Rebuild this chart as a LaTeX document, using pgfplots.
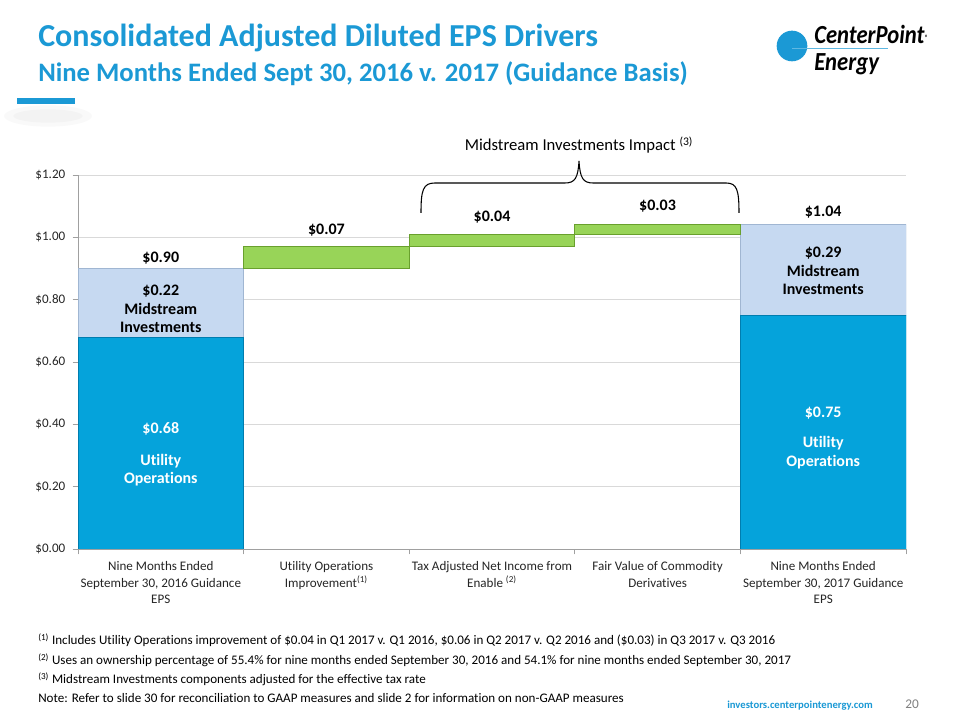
\documentclass[border=0pt]{standalone}
\usepackage{pgfplots}
\pgfplotsset{compat=1.18}
\usepackage{fontspec}
\setmainfont{Carlito}[Ligatures={NoCommon}]
\definecolor{titleblue}{RGB}{27,153,213}
\definecolor{barblue}{RGB}{5,163,219}
\definecolor{barblueedge}{RGB}{0,125,175}
\definecolor{lightblue}{RGB}{198,217,241}
\definecolor{lightblueedge}{RGB}{160,182,210}
\definecolor{barGreen}{RGB}{152,212,88}
\definecolor{greenedge}{RGB}{105,160,45}
\definecolor{textgray}{RGB}{38,38,38}
\definecolor{gridgray}{RGB}{217,217,217}
\definecolor{axisgray}{RGB}{160,160,160}
\pgfplotsset{
  wf/.style={ybar stacked, bar width=1, xmin=0, xmax=5, ymin=0, ymax=1.2,
    enlargelimits=false, scale only axis, width=621pt, height=280.5pt,
    at={(58.5pt,128.25pt)}, anchor=south west},
}
\tikzset{
  lbl/.style={font=\bfseries\fontsize{12}{13.9}\selectfont, align=center, text=black},
  wlbl/.style={font=\bfseries\fontsize{12}{14.2}\selectfont, align=center, text=white},
}
\begin{document}
\begin{tikzpicture}
\path[use as bounding box, fill=white] (0,0) rectangle (720pt,540pt);
\begin{axis}[wf,
  axis x line*=bottom, axis y line*=left,
  axis line style={draw=axisgray, line width=0.6pt},
  ymajorgrids, grid style={draw=gridgray, line width=0.6pt},
  ytick={0,0.2,0.4,0.6,0.8,1.0,1.2},
  yticklabels={\$0.00,\$0.20,\$0.40,\$0.60,\$0.80,\$1.00,\$1.20},
  xtick={0,1,2,3,4}, extra x ticks={5}, extra x tick labels={},
  xticklabels={{Nine Months Ended\\September 30, 2016 Guidance\\EPS},
    {Utility Operations\\Improvement\textsuperscript{(1)}},
    {Tax Adjusted Net Income from\\Enable \textsuperscript{(2)}},
    {Fair Value of Commodity\\Derivatives},
    {Nine Months Ended\\September 30, 2017 Guidance\\EPS}},
  xticklabel style={xshift=62.1pt, align=center, anchor=north, yshift=-2pt,
    font=\fontsize{9.8}{12.4}\selectfont, text=textgray},
  yticklabel style={font=\fontsize{9.8}{12}\selectfont, text=textgray, xshift=-2pt},
  tick style={draw=axisgray, line width=0.6pt},
  tick align=outside, major tick length=4pt,
]
\addplot[fill=barblue, draw=barblueedge, line width=0.6pt] coordinates {(0.5,0.68) (4.5,0.75)};
\addplot[fill=lightblue, draw=lightblueedge, line width=0.6pt] coordinates {(0.5,0.22) (4.5,0.29)};
\end{axis}
\begin{axis}[wf, hide axis, clip=false]
\addplot[fill=none, draw=none] coordinates {(1.5,0.90) (2.5,0.97) (3.5,1.01)};
\addplot[fill=barGreen, draw=greenedge, line width=0.6pt] coordinates {(1.5,0.07) (2.5,0.04) (3.5,0.03)};
\node[lbl] at (axis cs:0.5,0.934) {\$0.90};
\node[lbl] at (axis cs:0.5,0.770) {\$0.22\\Midstream\\Investments};
\node[wlbl] at (axis cs:0.5,0.385) {\$0.68};
\node[wlbl] at (axis cs:0.5,0.253) {Utility\\Operations};
\node[lbl] at (axis cs:1.5,1.024) {\$0.07};
\node[lbl] at (axis cs:2.5,1.065) {\$0.04};
\node[lbl] at (axis cs:3.5,1.100) {\$0.03};
\node[lbl] at (axis cs:4.5,1.081) {\$1.04};
\node[lbl] at (axis cs:4.5,0.892) {\$0.29\\Midstream\\Investments};
\node[wlbl] at (axis cs:4.5,0.436) {\$0.75};
\node[wlbl] at (axis cs:4.5,0.310) {Utility\\Operations};
\end{axis}
\begin{scope}[x=0.75pt, y=-0.75pt, shift={(0pt,540pt)}]
  % title
  \node[anchor=base west, inner sep=0, text=titleblue, font=\bfseries\fontsize{24}{28}\selectfont] at (38,47) {Consolidated Adjusted Diluted EPS Drivers};
  \node[anchor=base west, inner sep=0, text=titleblue, font=\bfseries\fontsize{20}{24}\selectfont] at (38,82) {Nine Months Ended Sept 30, 2016 v. 2017 (Guidance Basis)};
  % accent bar and shadow
  \fill[black, opacity=0.025] (48,116) ellipse (33pt and 8pt);
  \fill[black, opacity=0.025] (48,116) ellipse (26pt and 5pt);
  \fill[titleblue] (17,98) rectangle (75,104);
  % logo
  \fill[titleblue] (792,46) circle (11.5pt);
  \draw[titleblue!70, line width=0.8pt] (792,48.5) -- (888,48.5);
  \node[anchor=base west, inner sep=0, yscale=1.15, font=\bfseries\itshape\fontsize{17}{20}\selectfont] at (814,44) {CenterPoint\raisebox{0pt}{\fontsize{5}{6}\selectfont\textsuperscript{\textregistered}}};
  \node[anchor=base west, inner sep=0, yscale=1.15, font=\bfseries\itshape\fontsize{17}{20}\selectfont] at (814,71) {Energy};
  % brace
  \draw[black, line width=0.8pt] (421,213) .. controls (421,190) and (423,183) .. (435,183) -- (565,183) .. controls (575,183) and (578,178) .. (579,161) .. controls (580,178) and (583,183) .. (593,183) -- (726,183) .. controls (737,183) and (739,190) .. (739,213);
  \node[font=\fontsize{12.5}{15}\selectfont, text=black] at (579,145) {Midstream Investments Impact \textsuperscript{(3)}};
  % footnotes
  \begin{scope}[every node/.style={anchor=base west, inner sep=0, font=\fontsize{9.8}{12}\selectfont, text=black}]
    \node at (38,645) {\textsuperscript{(1)} Includes Utility Operations improvement of \$0.04 in Q1 2017 v. Q1 2016, \$0.06 in Q2 2017 v. Q2 2016 and (\$0.03) in Q3 2017 v. Q3 2016};
    \node at (38,665) {\textsuperscript{(2)} Uses an ownership percentage of 55.4\% for nine months ended September 30, 2016 and 54.1\% for nine months ended September 30, 2017};
    \node at (38,684) {\textsuperscript{(3)} Midstream Investments components adjusted for the effective tax rate};
    \node at (38,703) {Note: Refer to slide 30 for reconciliation to GAAP measures and slide 2 for information on non-GAAP measures};
  \end{scope}
  \node[anchor=base west, inner sep=0, text=titleblue, font=\bfseries\fontsize{8}{10}\selectfont] at (727,709) {investors.centerpointenergy.com};
  \node[anchor=base west, inner sep=0, text=gray, font=\fontsize{10}{12}\selectfont] at (905,709) {20};
\end{scope}
\end{tikzpicture}
\end{document}
